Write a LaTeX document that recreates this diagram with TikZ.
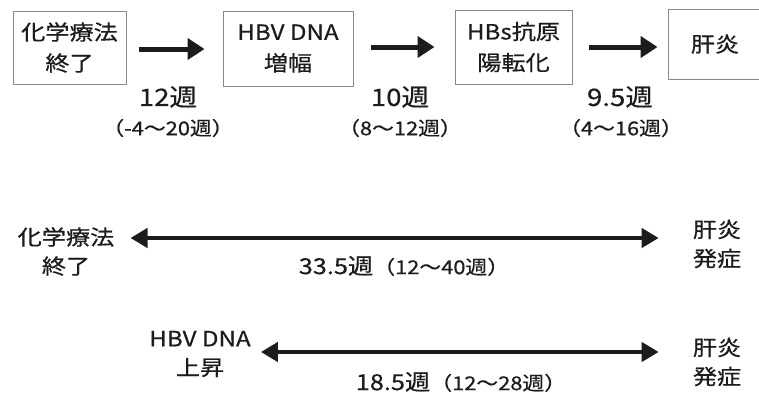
\documentclass[tikz,border=0pt]{standalone}
\usepackage{fontspec}
\setmainfont{Noto Sans CJK JP}[FakeStretch=1.15, FakeBold=0.6]
\usetikzlibrary{arrows.meta}
\definecolor{ink}{HTML}{1C1C1C}
\definecolor{frame}{HTML}{8A8A8A}
\tikzset{
  x=1pt, y=1pt,
  stepbox/.style={draw=frame, line width=1pt, text=ink, align=center, inner sep=0pt,
    font=\fontsize{21}{31}\selectfont},
  boxtxt/.style={text=ink, align=center, inner sep=0pt, font=\fontsize{21}{29}\selectfont},
  big/.style={text=ink, inner sep=0pt, font=\fontsize{24}{26}\selectfont},
  small/.style={text=ink, inner sep=0pt, font=\fontsize{19}{21}\selectfont},
  fwd/.style={draw=ink, line width=5pt, -{Triangle[length=17pt,width=21pt]}},
  dbl/.style={draw=ink, line width=4.5pt, {Triangle[length=17pt,width=19pt]}-{Triangle[length=17pt,width=19pt]}}
}
\begin{document}
\begin{tikzpicture}
\useasboundingbox (0,0) rectangle (759,-394);
% top boxes
\node[stepbox, minimum width=113pt, minimum height=73pt] (b1) at (69.5,-47.5) {化学療法\\終了};
\node[stepbox, minimum width=130pt, minimum height=75pt] (b2) at (288,-48.5) {HBV DNA\\増幅};
\node[stepbox, minimum width=117pt, minimum height=74pt] (b3) at (513.5,-47) {HBs抗原\\陽転化};
\node[stepbox, minimum width=94pt, minimum height=70pt] (b4) at (715,-44) {肝炎};
% top arrows
\draw[fwd, shorten <=12pt, shorten >=18pt] ([yshift=-1.5pt]b1.east) -- ([yshift=-0.5pt]b2.west);
\draw[fwd, shorten <=17pt, shorten >=20pt] ([yshift=1.5pt]b2.east) -- (b3.west);
\draw[fwd, shorten <=16pt, shorten >=10pt] (b3.east) -- ([yshift=-3pt]b4.west);
% top labels
\node[big] (t1) at (168,-97) {12週};
\node[small] (p1) at (168,-128) {（-4～20週）};
\node[big] (t2) at (400,-97) {10週};
\node[small] (p2) at (400,-128) {（8～12週）};
\node[big] (t3) at (620,-97) {9.5週};
\node[small] (p3) at (621,-128) {（4～16週）};
% middle row
\node[boxtxt] (l1) at (66,-251.5) {化学療法\\終了};
\node[boxtxt] (r1) at (717,-244) {肝炎\\発症};
\draw[dbl, shorten <=16pt, shorten >=34pt] ([yshift=13.5pt]l1.east) -- ([yshift=6pt]r1.west);
\node[text=ink, inner sep=0pt] (m1) at (404,-266) {\fontsize{22}{24}\selectfont 33.5週\fontsize{19}{21}\selectfont（12～40週）};
% bottom row
\node[boxtxt] (l2) at (200,-354) {HBV DNA\\上昇};
\node[boxtxt] (r2) at (717,-362) {肝炎\\発症};
\draw[dbl, shorten <=10pt, shorten >=34pt] ([yshift=2pt]l2.east) -- ([yshift=10pt]r2.west);
\node[text=ink, inner sep=0pt] (m2) at (461,-382) {\fontsize{22}{24}\selectfont 18.5週\fontsize{19}{21}\selectfont（12～28週）};
\end{tikzpicture}
\end{document}
